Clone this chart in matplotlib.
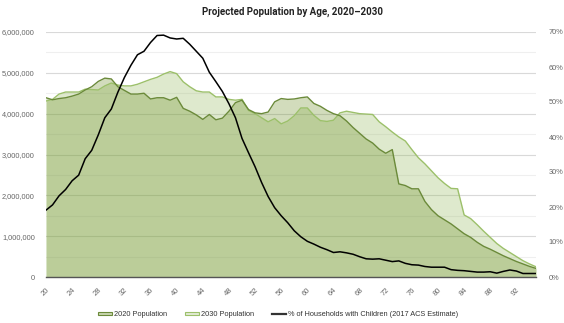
import matplotlib
matplotlib.use("Agg")
import matplotlib.pyplot as plt
from matplotlib.ticker import FuncFormatter, MultipleLocator
from matplotlib.patches import Patch
from matplotlib.lines import Line2D
import numpy as np

ages = list(range(20, 96))
pop_2020 = [4.39, 4.34, 4.37, 4.39, 4.43, 4.48, 4.58, 4.66, 4.79, 4.87,
            4.85, 4.66, 4.57, 4.48, 4.48, 4.50, 4.36, 4.39, 4.39, 4.33,
            4.40, 4.13, 4.06, 3.97, 3.86, 3.98, 3.85, 3.89, 4.06, 4.27,
            4.33, 4.10, 4.02, 4.00, 4.04, 4.29, 4.37, 4.35, 4.36, 4.39,
            4.41, 4.25, 4.18, 4.08, 4.00, 3.95, 3.82, 3.66, 3.52, 3.38,
            3.28, 3.13, 3.03, 3.12, 2.28, 2.24, 2.16, 2.16, 1.85, 1.65,
            1.50, 1.40, 1.30, 1.18, 1.06, 0.97, 0.85, 0.75, 0.68, 0.60,
            0.52, 0.45, 0.38, 0.32, 0.26, 0.21]
pop_2030 = [4.31, 4.35, 4.48, 4.53, 4.53, 4.53, 4.60, 4.59, 4.58, 4.68,
            4.75, 4.70, 4.68, 4.68, 4.72, 4.78, 4.84, 4.89, 4.97, 5.03,
            4.98, 4.78, 4.66, 4.56, 4.53, 4.53, 4.41, 4.41, 4.35, 4.33,
            4.35, 4.08, 4.00, 3.90, 3.80, 3.88, 3.75, 3.82, 3.95, 4.14,
            4.14, 3.96, 3.83, 3.81, 3.84, 4.02, 4.06, 4.03, 4.00, 3.99,
            3.98, 3.80, 3.68, 3.55, 3.43, 3.33, 3.12, 2.92, 2.77, 2.60,
            2.43, 2.29, 2.17, 2.16, 1.52, 1.43, 1.28, 1.12, 0.97, 0.82,
            0.70, 0.60, 0.50, 0.40, 0.32, 0.25]
pct_households = [19.1, 20.6, 23.2, 25.0, 27.5, 29.1, 33.8, 36.2, 40.6, 45.5,
                  48.0, 52.8, 57.0, 60.5, 63.5, 64.5, 67.0, 69.0, 69.1, 68.3,
                  68.0, 68.2, 66.5, 64.5, 62.5, 58.5, 55.8, 53.0, 49.5, 45.5,
                  39.6, 35.5, 31.5, 27.0, 23.0, 19.8, 17.5, 15.5, 13.2, 11.5,
                  10.2, 9.4, 8.5, 7.8, 7.0, 7.2, 6.9, 6.5, 5.8, 5.2,
                  5.1, 5.2, 4.8, 4.4, 4.6, 3.9, 3.5, 3.4, 3.0, 2.8,
                  2.8, 2.8, 2.1, 1.9, 1.8, 1.6, 1.4, 1.4, 1.5, 1.1,
                  1.6, 2.0, 1.7, 1.0, 1.0, 1.0]
xtick_labels = list(range(20, 96, 4))
title = "Projected Population by Age, 2020\u20132030"
labels = ["2020 Population", "2030 Population",
          "% of Households with Children (2017 ACS Estimate)"]

c2020_line = "#6b8a3a"
c2020_fill = "#6b8e23"
c2030_line = "#9cc06a"
c2030_fill = "#93b85a"
txt = "#666666"

plt.rcParams['font.family'] = ['Liberation Sans', 'DejaVu Sans']

fig = plt.figure(figsize=(5.64, 3.23), dpi=100)
ax = fig.add_axes([46/564, 1-277/323, (536-46)/564, (277-32)/323])

p20 = np.array(pop_2020) * 1e6
p30 = np.array(pop_2030) * 1e6

ax.fill_between(ages, 0, p30, color=c2030_fill, alpha=0.3, lw=0, zorder=2)
ax.plot(ages, p30, color=c2030_line, lw=1.0, zorder=4)
ax.fill_between(ages, 0, p20, color=c2020_fill, alpha=0.3, lw=0, zorder=3)
ax.plot(ages, p20, color=c2020_line, lw=1.0, zorder=5)

ax.set_xlim(20, 95)
ax.set_ylim(0, 6e6)
ax.yaxis.set_major_locator(MultipleLocator(1e6))
ax.yaxis.set_minor_locator(MultipleLocator(5e5))
ax.yaxis.set_major_formatter(FuncFormatter(lambda v, p: f"{int(v):,}"))
ax.grid(axis='y', which='major', color='#d9d9d9', lw=0.8, zorder=0)
ax.grid(axis='y', which='minor', color='#efefef', lw=0.8, zorder=0)
ax.set_axisbelow(True)
ax.set_xticks(xtick_labels)
ax.set_xticklabels([str(t) for t in xtick_labels], rotation=45, ha='right',
                   rotation_mode='anchor', fontsize=5.5, color=txt)
ax.tick_params(axis='both', which='both', length=0)
ax.tick_params(axis='y', labelsize=5.3, labelcolor=txt, pad=8)
ax.tick_params(axis='x', pad=7)
for s in ['top', 'right', 'left']:
    ax.spines[s].set_visible(False)
ax.spines['bottom'].set_color('#555555')
ax.spines['bottom'].set_linewidth(1.0)
ax.spines['bottom'].set_zorder(7)

ax2 = ax.twinx()
ax2.plot(ages, pct_households, color='black', lw=1.1, zorder=6)
ax2.set_ylim(0, 70)
ax2.yaxis.set_major_locator(MultipleLocator(10))
ax2.yaxis.set_major_formatter(FuncFormatter(lambda v, p: f"{int(v)}%"))
ax2.tick_params(axis='y', which='both', length=0, labelsize=5.3, labelcolor=txt, pad=9)
for s in ax2.spines.values():
    s.set_visible(False)
ax2.set_xlim(20, 95)

fig.text(292/564, 1-12/323, title, ha='center', va='center',
         fontsize=7, fontweight='bold', family=['Roboto', 'DejaVu Sans'], color='#222222')

handles = [Patch(facecolor='#c9d6b0', edgecolor=c2020_line, lw=0.8),
           Patch(facecolor='#e2ebd4', edgecolor=c2030_line, lw=0.8),
           Line2D([0], [0], color='#333333', lw=1.6)]
fig.legend(handles, labels, loc='center', bbox_to_anchor=(278/564, 1-315/323),
           ncol=3, frameon=False, fontsize=5.3, handlelength=1.9, handleheight=0.3,
           handletextpad=0.3, columnspacing=2.4, labelcolor='#333333')

fig.savefig("out.png", dpi=100)
